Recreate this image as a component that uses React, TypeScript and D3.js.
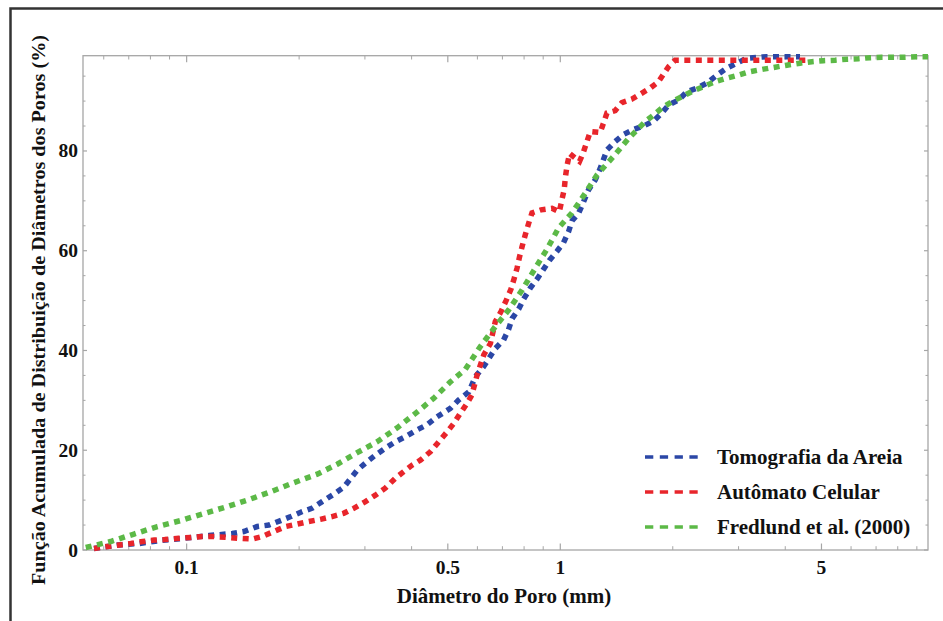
import React from "react";
import * as d3 from "d3";

const xTickMajor = [0.1, 0.5, 1, 5];
const xTickLabels = ["0.1", "0.5", "1", "5"];
const xTickMinor = [0.06, 0.07, 0.08, 0.09, 0.2, 0.3, 0.4, 0.6, 0.7, 0.8, 0.9, 2, 3, 4, 6, 7, 8, 9];
const yTickMajor = [0, 20, 40, 60, 80];
const yTickMinor = [5, 10, 15, 25, 30, 35, 45, 50, 55, 65, 70, 75, 85, 90, 95];

const seriesNames = ["Tomografia da Areia", "Autômato Celular", "Fredlund et al. (2000)"];
const seriesColors = ["#2b47a6", "#e8252b", "#5cb947"];

const blueX = [0.0565, 0.0653, 0.0746, 0.0852, 0.0984, 0.1148, 0.1325, 0.1423, 0.1545, 0.166, 0.1784, 0.19, 0.204, 0.217, 0.2305, 0.2477, 0.2634, 0.286, 0.304, 0.32, 0.34, 0.362, 0.385, 0.414, 0.44, 0.468, 0.508, 0.535, 0.569, 0.593, 0.624, 0.67, 0.705, 0.727, 0.743, 0.774, 0.798, 0.831, 0.87, 0.902, 0.936, 0.98, 1.02, 1.052, 1.075, 1.119, 1.154, 1.19, 1.24, 1.279, 1.333, 1.403, 1.476, 1.57, 1.67, 1.777, 1.87, 1.948, 2.072, 2.183, 2.32, 2.467, 2.624, 2.791, 2.968, 3.157, 3.57, 4.38];
const blueY = [0.3, 1.0, 1.3, 1.9, 2.35, 2.9, 3.3, 3.7, 4.7, 5.0, 5.9, 6.7, 7.7, 8.4, 9.7, 11.2, 12.6, 16.0, 17.7, 19.0, 20.4, 21.7, 22.7, 24.1, 25.1, 26.7, 28.4, 30.1, 31.7, 34.8, 36.8, 40.4, 42.1, 44.2, 46.4, 48.3, 50.3, 52.5, 54.5, 56.3, 58.1, 59.9, 61.6, 63.8, 66.0, 67.5, 69.8, 72.2, 74.2, 76.5, 80.2, 81.9, 83.3, 84.3, 85.0, 86.0, 87.6, 89.2, 90.2, 91.9, 92.6, 93.6, 95.2, 96.6, 97.6, 98.6, 98.9, 98.9];

const redX = [0.0565, 0.0614, 0.0661, 0.0709, 0.0763, 0.0819, 0.0874, 0.0953, 0.1024, 0.11, 0.118, 0.127, 0.138, 0.15, 0.159, 0.171, 0.184, 0.198, 0.212, 0.228, 0.245, 0.263, 0.28, 0.301, 0.32, 0.34, 0.362, 0.381, 0.401, 0.422, 0.449, 0.473, 0.498, 0.519, 0.54, 0.563, 0.58, 0.599, 0.624, 0.65, 0.67, 0.694, 0.717, 0.738, 0.753, 0.766, 0.778, 0.79, 0.806, 0.823, 0.84, 0.888, 0.95, 0.994, 1.01, 1.025, 1.031, 1.042, 1.059, 1.126, 1.15, 1.174, 1.203, 1.279, 1.305, 1.333, 1.403, 1.462, 1.555, 1.636, 1.74, 1.832, 1.948, 2.03, 4.6];
const redY = [0.3, 0.7, 1.0, 1.3, 1.7, 2.0, 2.1, 2.35, 2.5, 2.7, 2.7, 2.55, 2.35, 2.2, 2.7, 3.7, 4.7, 5.2, 5.7, 6.15, 6.7, 7.35, 8.35, 9.7, 11.0, 12.4, 14.4, 15.7, 17.0, 18.0, 19.7, 21.7, 23.7, 25.4, 27.4, 29.4, 31.1, 35.1, 39.1, 41.4, 45.8, 47.8, 50.1, 52.3, 54.5, 56.5, 58.8, 60.8, 63.2, 65.5, 67.6, 68.2, 68.5, 67.8, 70.2, 72.4, 74.5, 77.0, 79.5, 77.9, 79.5, 81.5, 83.9, 83.7, 85.6, 87.6, 88.1, 89.7, 90.4, 91.4, 92.6, 93.9, 96.9, 98.2, 98.2];

const greenX = [0.0537, 0.0626, 0.0723, 0.0835, 0.0964, 0.11, 0.127, 0.1467, 0.1695, 0.1936, 0.2236, 0.253, 0.286, 0.3235, 0.366, 0.4096, 0.458, 0.508, 0.557, 0.611, 0.67, 0.727, 0.79, 0.857, 0.921, 0.99, 1.075, 1.166, 1.254, 1.388, 1.523, 1.604, 1.688, 1.777, 1.87, 1.99, 2.116, 2.25, 2.416, 2.597, 2.791, 2.998, 3.221, 3.497, 3.757, 4.037, 4.38, 4.71, 5.06, 5.44, 5.84, 6.28, 6.74, 7.24, 7.78, 8.36, 8.99, 9.64];
const greenY = [0.5, 1.7, 3.2, 4.7, 5.9, 7.2, 8.6, 10.1, 11.8, 13.5, 15.2, 17.2, 19.5, 21.7, 24.5, 27.4, 30.4, 33.7, 36.2, 40.8, 44.8, 48.1, 52.1, 56.5, 60.3, 64.6, 67.6, 71.5, 75.2, 78.9, 82.5, 84.2, 85.9, 87.2, 88.6, 89.9, 90.9, 91.9, 92.9, 93.9, 94.6, 95.2, 95.9, 96.4, 96.8, 97.2, 97.6, 97.9, 98.1, 98.2, 98.4, 98.5, 98.7, 98.8, 98.8, 98.8, 98.9, 98.9];

const seriesX = [blueX, redX, greenX];
const seriesY = [blueY, redY, greenY];

const L = 83, R = 928, T = 55.7, B = 550;
const axisColor = "#a6a6a6";
const font = "Liberation Serif";

export default function App() {
  const x = d3.scaleLog().domain([0.0528, 9.64]).range([L, R]);
  const y = d3.scaleLinear().domain([0, 99.1]).range([B, T]);
  const line = d3.line<[number, number]>().x((d) => x(d[0])).y((d) => y(d[1]));
  const legendY = [457, 492, 527];

  return (
    <svg width={943} height={621} style={{ position: "absolute", left: 0, top: 0, background: "#fff" }}>
      <rect x={0} y={0} width={943} height={621} fill="#fff" />
      <rect x={10.5} y={8.5} width={1000} height={700} fill="none" stroke="#333" strokeWidth={2.5} />
      <rect x={L} y={T} width={R - L} height={B - T} fill="none" stroke={axisColor} strokeWidth={1.3} />
      {xTickMajor.map((v, i) => (
        <g key={"xm" + i}>
          <line x1={x(v)} x2={x(v)} y1={B} y2={B - 6.5} stroke={axisColor} strokeWidth={1.2} />
          <line x1={x(v)} x2={x(v)} y1={T} y2={T + 6.5} stroke={axisColor} strokeWidth={1.2} />
          <text x={x(v)} y={573.5} textAnchor="middle" fontFamily={font} fontWeight="bold" fontSize={19.5} fill="#111">{xTickLabels[i]}</text>
        </g>
      ))}
      {xTickMinor.map((v, i) => (
        <g key={"xn" + i}>
          <line x1={x(v)} x2={x(v)} y1={B} y2={B - 3.8} stroke={axisColor} strokeWidth={1} />
          <line x1={x(v)} x2={x(v)} y1={T} y2={T + 3.8} stroke={axisColor} strokeWidth={1} />
        </g>
      ))}
      {yTickMajor.map((v, i) => (
        <g key={"ym" + i}>
          <line x1={L} x2={L + 4} y1={y(v)} y2={y(v)} stroke={axisColor} strokeWidth={1.2} />
          <line x1={R} x2={R - 4} y1={y(v)} y2={y(v)} stroke={axisColor} strokeWidth={1.2} />
          <text x={78} y={y(v) + 6.5} textAnchor="end" fontFamily={font} fontWeight="bold" fontSize={19.5} fill="#111">{String(v)}</text>
        </g>
      ))}
      {yTickMinor.map((v, i) => (
        <g key={"yn" + i}>
          <line x1={L} x2={L + 2.5} y1={y(v)} y2={y(v)} stroke={axisColor} strokeWidth={1} />
          <line x1={R} x2={R - 2.5} y1={y(v)} y2={y(v)} stroke={axisColor} strokeWidth={1} />
        </g>
      ))}
      {seriesX.map((xs, si) => {
        const pts: [number, number][] = xs.map((v, j) => [v, seriesY[si][j]]);
        return (
          <path key={"s" + si} d={line(pts) || ""} fill="none" stroke={seriesColors[si]} strokeWidth={5.5} strokeDasharray="6 5.5" strokeLinejoin="miter" />
        );
      })}
      {seriesNames.map((n, i) => (
        <g key={"lg" + i}>
          <line x1={645} x2={703} y1={legendY[i]} y2={legendY[i]} stroke={seriesColors[i]} strokeWidth={3.3} strokeDasharray="8.3 6.5" />
          <text x={717} y={legendY[i] + 7} fontFamily={font} fontWeight="bold" fontSize={21} fill="#111">{n}</text>
        </g>
      ))}
      <text x={504} y={603} textAnchor="middle" fontFamily={font} fontWeight="bold" fontSize={21} fill="#111">Diâmetro do Poro (mm)</text>
      <text transform="translate(45,310) rotate(-90)" textAnchor="middle" fontFamily={font} fontWeight="bold" fontSize={18.5} fill="#111" textLength={550} lengthAdjust="spacingAndGlyphs">Função Acumulada de Distribuição de Diâmetros dos Poros (%)</text>
    </svg>
  );
}
